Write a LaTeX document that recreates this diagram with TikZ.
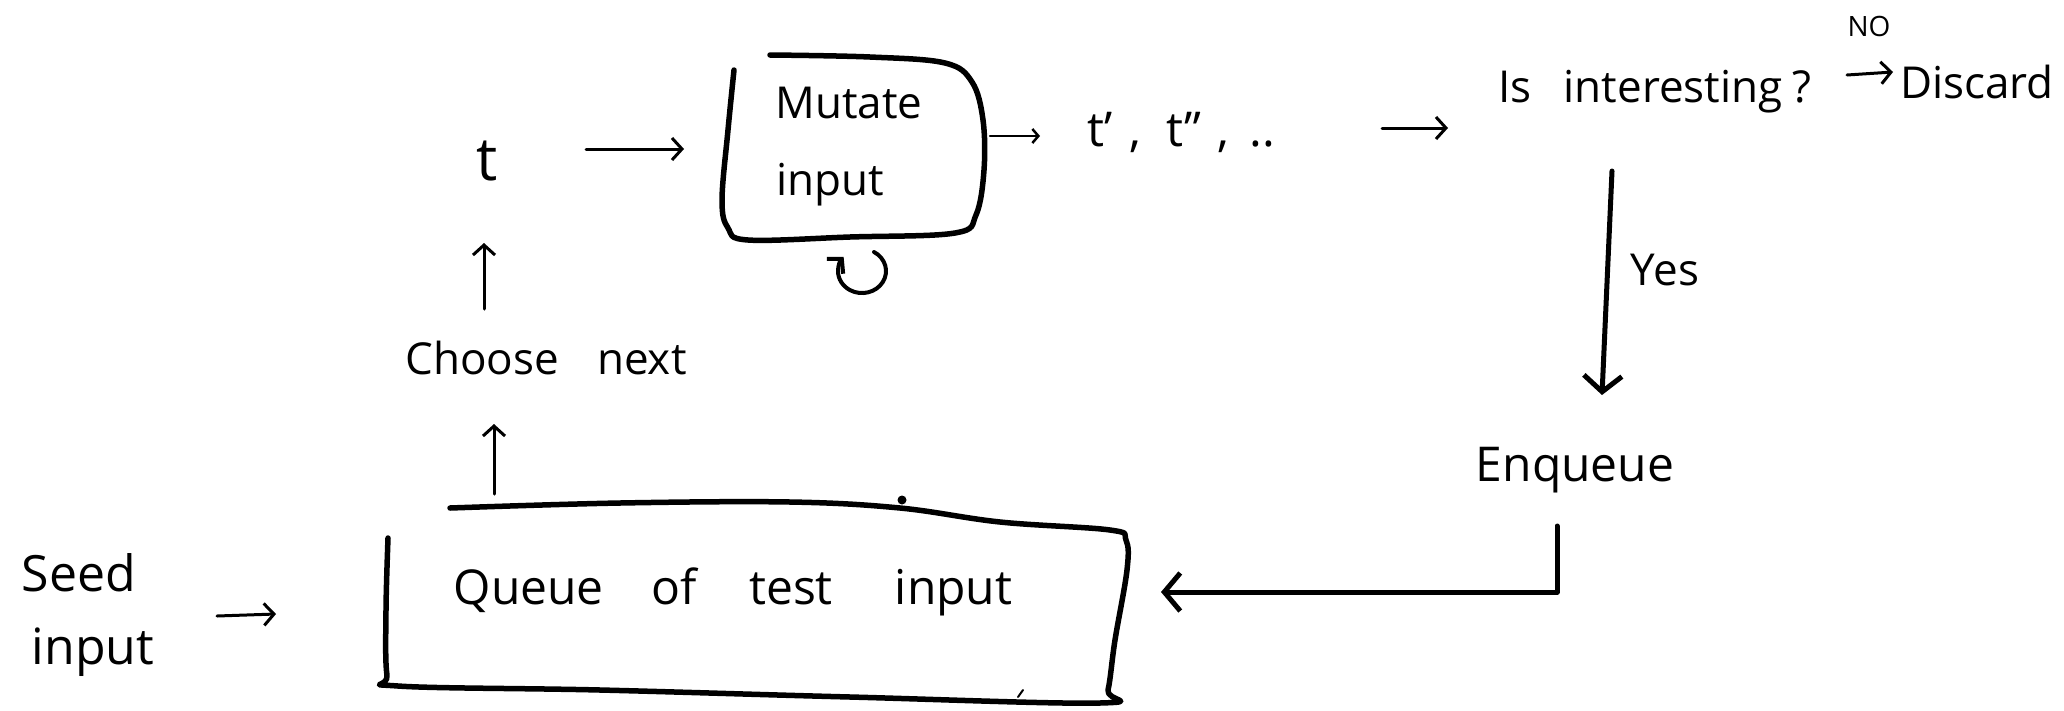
\documentclass[tikz,border=0pt]{standalone}
\usepackage{fontspec}
\setmainfont{Open Sans}
\usetikzlibrary{arrows.meta}
\begin{document}
\begin{tikzpicture}[x=1pt,y=-1pt,
  lbl/.style={inner sep=0pt, font=\fontsize{44}{50}\selectfont},
  lblbig/.style={inner sep=0pt, font=\fontsize{50}{56}\selectfont},
  bigl/.style={inner sep=0pt, font=\fontsize{60}{66}\selectfont},
  smalll/.style={inner sep=0pt, font=\fontsize{28}{32}\selectfont},
  area/.style={inner sep=0pt, draw=none},
  thinarr/.style={line width=3pt, line cap=round, line join=round, -{Straight Barb[length=10pt,width=22pt]}},
  thickarr/.style={line width=5pt, line cap=round, line join=round, -{Straight Barb[length=16pt,width=38pt]}},
  outline/.style={line width=5.5pt, line cap=round, line join=round},
]
\useasboundingbox (0,0) rectangle (2064,710);

% nodes
\node[bigl] (t) at (487,161) {t};
\node[area, minimum width=264, minimum height=185] (mutbox) at (853,147) {};
\node[lbl] (mutA) at (849,103) {Mutate};
\node[lbl] (mutB) at (830,185) {input};
\node[lbl, font=\fontsize{48}{54}\selectfont] (tp) at (1181,132) {t'\hspace{16pt},\hspace{26pt}t''\hspace{16pt},\hspace{20pt}..};
\node[lbl] (isint) at (1655,92) {Is\hspace{32pt}interesting\hspace{10pt}?};
\node[smalll] (no) at (1869,26) {NO};
\node[lbl] (discard) at (1977,82) {Discard};
\node[lbl] (yes) at (1665,270) {Yes};
\node[lbl, font=\fontsize{48}{54}\selectfont] (enq) at (1575,470) {Enqueue};
\node[area, minimum width=741, minimum height=198] (qbox) at (758,604) {};
\node[lbl, font=\fontsize{48}{54}\selectfont] (qtext) at (733,592) {Queue\hspace{48pt}of\hspace{52pt}test\hspace{62pt}input};
\node[lbl] (choose) at (546,358) {Choose\hspace{38pt}next};
\node[lblbig] (seedA) at (79,573) {Seed};
\node[lblbig] (seedB) at (93,652) {input};

% hand-drawn box outlines
\draw[outline] plot[smooth, tension=0.6] coordinates {(734,70) (728,130) (722,200) (728,228) (748,240) (850,237) (955,233) (976,215) (984,170) (983,120) (972,82) (945,63) (870,57) (770,55)};
\draw[outline] plot[smooth, tension=0.6] coordinates {(388,538) (386,610) (387,675) (398,686) (600,690) (850,697) (1100,703) (1108,690) (1115,640) (1127,570) (1126,540) (1110,530) (1000,522) (900,508) (790,502) (620,503) (450,508)};
\fill (902,500) circle[radius=4.5];
\draw[line width=2pt, line cap=round] (1018,697) -- (1023,690);

% connectors
\draw[thinarr] ([shift={(99,-12)}]t.center) -- ([shift={(-169,2)}]mutbox.center);
\draw[line width=2.5pt, line cap=round, line join=round, -{Straight Barb[length=6pt,width=14pt]}] ([shift={(137,-11)}]mutbox.center) -- ([shift={(-141,4)}]tp.center);
\draw[thinarr] ([shift={(201,-4)}]tp.center) -- ([shift={(-207,36)}]isint.center);
\draw[thinarr] ([shift={(192,-17)}]isint.center) -- ([shift={(-84,-10)}]discard.center);
\draw[thickarr] ([shift={(-43,79)}]isint.center) -- ([shift={(27,-75)}]enq.center);
\draw[thickarr] ([shift={(-18,56)}]enq.center) |- ([shift={(403,-12)}]qbox.center);
\draw[thinarr] ([shift={(-264,-110)}]qbox.center) -- ([shift={(-52,66)}]choose.center);
\draw[thinarr] ([shift={(-62,-49)}]choose.center) -- ([shift={(-3,82)}]t.center);
\draw[thinarr] ([shift={(138,43)}]seedA.center) -- ([shift={(-482,10)}]qbox.center);
\draw[thinarr, line width=4pt] ([shift={(21,105)}]mutbox.center) arc[start angle=-60, end angle=220, x radius=24, y radius=22];
\end{tikzpicture}
\end{document}
